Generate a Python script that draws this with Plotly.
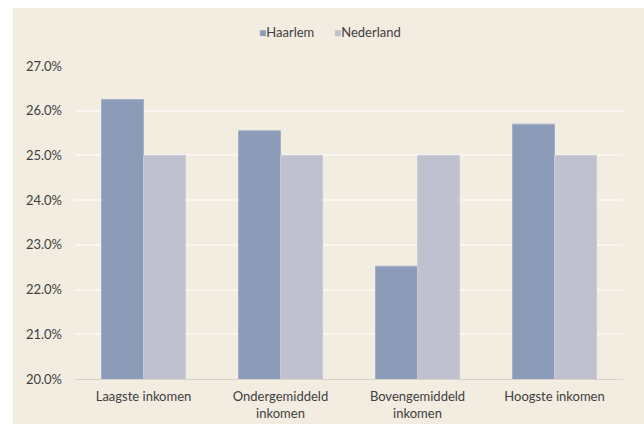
import plotly.graph_objects as go

categories = ["Laagste inkomen", "Ondergemiddeld<br>inkomen", "Bovengemiddeld<br>inkomen", "Hoogste inkomen"]
haarlem = [26.25, 25.55, 22.52, 25.70]
nederland = [25.0, 25.0, 25.0, 25.0]
y_ticks = [20, 21, 22, 23, 24, 25, 26, 27]
y_labels = [f"{v:.1f}%" for v in y_ticks]
series_names = ["Haarlem", "Nederland"]
series_colors = ["#8c9cb8", "#bfc1ce"]
legend_left_px = [257, 332]

W, H = 644, 425
ml, mr, mt, mb = 75, 21, 66, 46
pw, ph = W - ml - mr, H - mt - mb

fig = go.Figure()
fig.add_trace(go.Bar(name=series_names[0], x=categories, y=haarlem, showlegend=False,
                     marker=dict(color=series_colors[0], line=dict(color="#a3afc6", width=1))))
fig.add_trace(go.Bar(name=series_names[1], x=categories, y=nederland, showlegend=False,
                     marker=dict(color=series_colors[1], line=dict(color="#c9cbd6", width=1))))

# beige chart panel with a thin white border on the left and top
fig.add_shape(type="rect", xref="paper", yref="paper", layer="below",
              x0=(13 - ml) / pw, x1=(W - ml) / pw,
              y0=-(H - 1 - (H - mb)) / ph, y1=((H - mb) - 8) / ph,
              fillcolor="#f3ece1", line=dict(width=0))

# compact legend: small coloured square followed by the series name
for name, color, left in zip(series_names, series_colors, legend_left_px):
    fig.add_annotation(text=f"<span style='color:{color};font-size:12px'>■</span>{name}",
                       xref="paper", yref="paper",
                       x=(left - ml) / pw, y=((H - mb) - 32) / ph,
                       xanchor="left", yanchor="middle", showarrow=False,
                       font=dict(size=13, color="#404040"))

fig.update_layout(
    width=W, height=H,
    margin=dict(l=ml, r=mr, t=mt, b=mb, autoexpand=False),
    paper_bgcolor="white", plot_bgcolor="rgba(0,0,0,0)",
    barmode="group", bargap=0.387, bargroupgap=0,
    font=dict(family="Lato, Carlito, sans-serif", size=13, color="#404040"),
    xaxis=dict(showline=True, linecolor="#d6d3ce", linewidth=1, ticks="",
               tickfont=dict(size=13), showgrid=False, automargin=False,
               ticklabelstandoff=5),
    yaxis=dict(range=[20, 27], tickvals=y_ticks, ticktext=y_labels, automargin=False,
               showgrid=True, gridcolor="#f9f6f1", gridwidth=1.5, zeroline=False,
               ticklabelstandoff=12, tickfont=dict(size=13)),
)

fig.write_html("out.html")
